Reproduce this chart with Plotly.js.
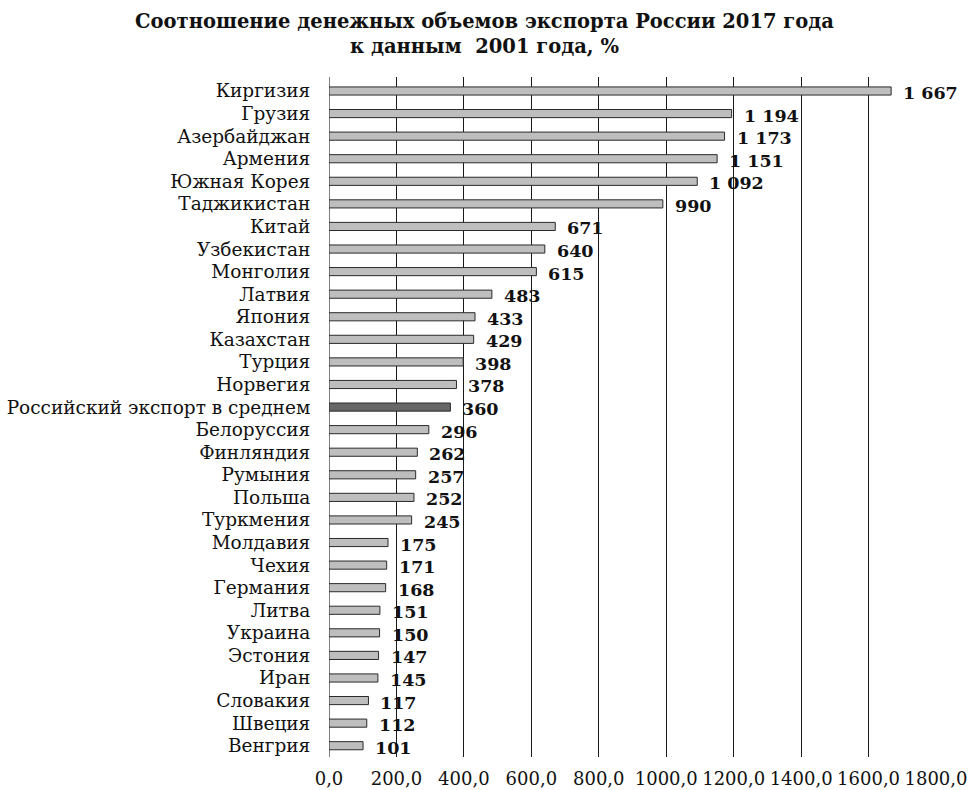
<!DOCTYPE html>
<html>
<head>
<meta charset="utf-8">
<script src="https://cdn.plot.ly/plotly-3.0.1.min.js"></script>
<style>html,body{margin:0;padding:0;background:#fff;}#chart{width:969px;height:790px;}</style>
</head>
<body>
<div id="chart"></div>
<script>
const categories = ["Киргизия","Грузия","Азербайджан","Армения","Южная Корея","Таджикистан","Китай","Узбекистан","Монголия","Латвия","Япония","Казахстан","Турция","Норвегия","Российский экспорт в среднем","Белоруссия","Финляндия","Румыния","Польша","Туркмения","Молдавия","Чехия","Германия","Литва","Украина","Эстония","Иран","Словакия","Швеция","Венгрия"];
const values = [1667,1194,1173,1151,1092,990,671,640,615,483,433,429,398,378,360,296,262,257,252,245,175,171,168,151,150,147,145,117,112,101];
const highlight = "Российский экспорт в среднем";
const tickVals = [0,200,400,600,800,1000,1200,1400,1600,1800];

const SERIF = "DejaVu Serif";

function fmt(v){
  const s = String(Math.round(v));
  return s.replace(/\B(?=(\d{3})+(?!\d))/g, "\u00a0");
}

const colors = categories.map(c => c === highlight ? "#676767" : "#bebebe");

const trace = {
  type: "bar",
  orientation: "h",
  x: values,
  y: categories,
  marker: {color: colors, line: {color: "#2a2a2a", width: 1}},
  hoverinfo: "x+y"
};

const annotations = categories.map((c,i) => ({
  x: values[i], y: c, xref: "x", yref: "y",
  text: "<b>" + fmt(values[i]) + "</b>",
  showarrow: false, xanchor: "left", yanchor: "middle",
  xshift: 10, yshift: -2,
  font: {family: SERIF, size: 17.5, color: "#111"}
}));

const layout = {
  width: 969, height: 790,
  margin: {l: 329, r: 33, t: 77, b: 33},
  paper_bgcolor: "#fff", plot_bgcolor: "#fff",
  showlegend: false,
  bargap: 0.64,
  separators: ", ",
  title: {
    text: "<b>Соотношение денежных объемов экспорта России 2017 года<br>к данным  2001 года, %</b>",
    x: 0.5, xanchor: "center", y: 0.965, yanchor: "top",
    font: {family: SERIF, size: 19.5, color: "#111"}
  },
  font: {family: SERIF, color: "#111"},
  xaxis: {
    range: [0, 1800],
    tickvals: tickVals,
    tickformat: ".1f",
    showgrid: true, gridcolor: "#1a1a1a", gridwidth: 1,
    zeroline: true, zerolinecolor: "#808080", zerolinewidth: 1,
    showline: false,
    ticks: "outside", ticklen: 5, tickcolor: "rgba(0,0,0,0)",
    tickfont: {size: 18, family: SERIF, color: "#111"},
    automargin: false,
    fixedrange: true
  },
  yaxis: {
    autorange: "reversed",
    tickmode: "array", tickvals: categories, ticktext: categories,
    showgrid: false, zeroline: false, showline: false,
    ticks: "outside", ticklen: 14, tickcolor: "rgba(0,0,0,0)",
    tickfont: {size: 18.5, family: SERIF, color: "#111"},
    automargin: false,
    fixedrange: true
  },
  annotations: annotations
};

Plotly.newPlot("chart", [trace], layout, {displayModeBar: false, staticPlot: true});
</script>
</body>
</html>
